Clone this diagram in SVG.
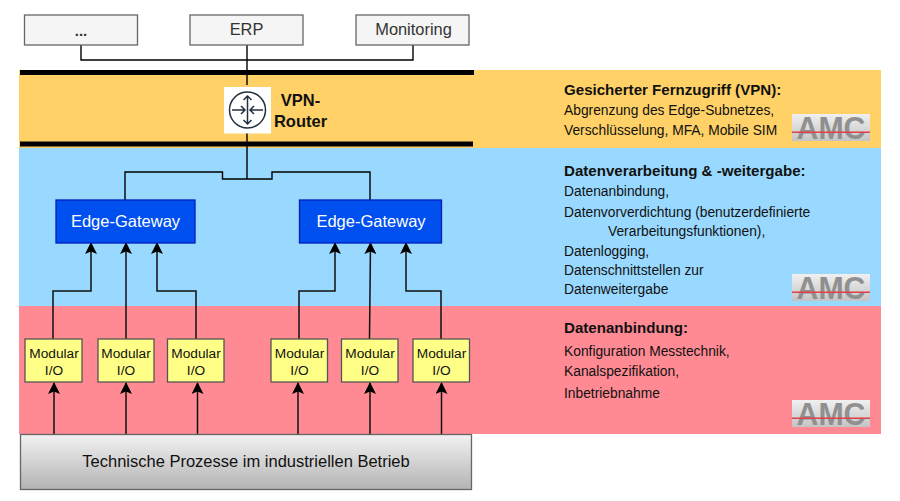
<svg xmlns="http://www.w3.org/2000/svg" width="900" height="501" viewBox="0 0 900 501">
<style>
text{font-family:"Liberation Sans",Arial,sans-serif;fill:#111}
.top{fill:#f5f5f5;stroke:#666;stroke-width:1.3}
.io{fill:#ffff88;stroke:#555;stroke-width:1.3}
.gw{fill:#0050ef;stroke:#001dbc;stroke-width:1.3}
.c{fill:none;stroke:#000;stroke-width:1.4}
.a{fill:none;stroke:#111;stroke-width:1.5;marker-end:url(#ah)}
.bar{fill:#000}
.lbl{font-size:13.7px;text-anchor:middle}
.tl{font-size:16.400px;text-anchor:middle;fill:#333}
.gl{font-size:16.500px;text-anchor:middle;fill:#fff}
.rl{font-size:16.500px;font-weight:bold;text-anchor:middle}
.h{font-size:15.100px;font-weight:bold}
.d{font-size:13.800px}
.ico{fill:none;stroke:#232f3e;stroke-width:1.5}
.logo{font-size:31px;font-weight:bold;fill:#909090;text-anchor:middle}
</style>
<defs>
<marker id="ah" markerUnits="userSpaceOnUse" markerWidth="12" markerHeight="12" refX="11" refY="6" orient="auto" viewBox="0 0 12 12"><path d="M12 6L0 0L2.500 6L0 12Z" fill="#000"/></marker>
<linearGradient id="g" x1="0" y1="0" x2="0" y2="1"><stop offset="0" stop-color="#f2f2f2"/><stop offset="1" stop-color="#b3b3b3"/></linearGradient>
<linearGradient id="lg" x1="0" y1="0" x2="0" y2="1"><stop offset="0" stop-color="#f0f0f0"/><stop offset="1" stop-color="#c4c4c4"/></linearGradient>
<g id="amc"><rect width="78" height="27" fill="url(#lg)"/><text class="logo" x="39" y="25" textLength="69" lengthAdjust="spacingAndGlyphs">AMC</text><rect y="17.500" width="78" height="1.500" fill="#e04048"/></g>
</defs>
<rect id="band-vpn" x="19" y="70" width="862" height="78" fill="#ffd166"/>
<rect id="band-daten" x="19" y="148" width="862" height="158" fill="#99d9ff"/>
<rect id="band-io" x="19" y="306" width="862" height="128" fill="#ff8a94"/>
<g id="connectors">
<path class="c" d="M81 45V60H413V45M247 45V85M247 133V179M125 200V172H222.500V179H272V172H370V200"/>
<path class="a" d="M53 339V291H91V243"/>
<path class="a" d="M126 339V243"/>
<path class="a" d="M196 339V291H157V243"/>
<path class="a" d="M299 339V291H335V243"/>
<path class="a" d="M369.500 339L370.500 243"/>
<path class="a" d="M441 339V291H406V243"/>
<path class="a" d="M54 434V383"/>
<path class="a" d="M126 434V383"/>
<path class="a" d="M197.500 434V383"/>
<path class="a" d="M298 434V383"/>
<path class="a" d="M370 434V383"/>
<path class="a" d="M441.500 434V383"/>
</g>
<rect class="bar" x="20" y="70" width="454" height="5"/>
<rect class="bar" x="20" y="141.500" width="453" height="5"/>
<g id="n-dots"><rect class="top" x="24.500" y="15" width="113" height="30"/><text class="lbl" x="81" y="36" style="font-weight:bold;font-size:15px;fill:#333">...</text></g>
<g id="n-erp"><rect class="top" x="190" y="15" width="113" height="30"/><text class="tl" x="246.500" y="35">ERP</text></g>
<g id="n-monitoring"><rect class="top" x="356" y="15" width="113" height="30"/><text class="tl" x="413.500" y="35">Monitoring</text></g>
<g id="n-router">
<rect x="224" y="87" width="47" height="46.500" fill="#fff"/>
<circle class="ico" cx="247.500" cy="110" r="18"/>
<path class="ico" d="M247.500 96V124M243.500 100L247.500 96L251.500 100M243.500 120L247.500 124L251.500 120M232 110H245M241 106L245 110L241 114M263 110H250M254 106L250 110L254 114"/>
<text class="rl" x="300.500" y="106">VPN-</text>
<text class="rl" x="300.500" y="127">Router</text>
</g>
<g id="n-gw1"><rect class="gw" x="56" y="200" width="139" height="43"/><text class="gl" x="125.500" y="227">Edge-Gateway</text></g>
<g id="n-gw2"><rect class="gw" x="299.500" y="200" width="142" height="43"/><text class="gl" x="371" y="227">Edge-Gateway</text></g>
<g id="n-io1"><rect class="io" x="25" y="339" width="57" height="43"/><text class="lbl" x="54" y="358">Modular</text><text class="lbl" x="54" y="375">I/O</text></g>
<g id="n-io2"><rect class="io" x="98" y="339" width="56" height="43"/><text class="lbl" x="126" y="358">Modular</text><text class="lbl" x="126" y="375">I/O</text></g>
<g id="n-io3"><rect class="io" x="167.500" y="339" width="56.500" height="43"/><text class="lbl" x="196" y="358">Modular</text><text class="lbl" x="196" y="375">I/O</text></g>
<g id="n-io4"><rect class="io" x="271" y="339" width="56.500" height="43"/><text class="lbl" x="299.500" y="358">Modular</text><text class="lbl" x="299.500" y="375">I/O</text></g>
<g id="n-io5"><rect class="io" x="341.500" y="339" width="56.500" height="43"/><text class="lbl" x="370" y="358">Modular</text><text class="lbl" x="370" y="375">I/O</text></g>
<g id="n-io6"><rect class="io" x="413" y="339" width="56.500" height="43"/><text class="lbl" x="441.500" y="358">Modular</text><text class="lbl" x="441.500" y="375">I/O</text></g>
<g id="n-prozesse"><rect x="20.500" y="434.500" width="451" height="55" fill="url(#g)" stroke="#666" stroke-width="1.3"/><text x="246" y="467" text-anchor="middle" style="font-size:16.500px">Technische Prozesse im industriellen Betrieb</text></g>
<text class="h" x="564" y="95">Gesicherter Fernzugriff (VPN):</text>
<text class="d" x="564" y="114.500">Abgrenzung des Edge-Subnetzes,</text>
<text class="d" x="564" y="135">Verschlüsselung, MFA, Mobile SIM</text>
<text class="h" x="564" y="176">Datenverarbeitung &amp; -weitergabe:</text>
<text class="d" x="564" y="196">Datenanbindung,</text>
<text class="d" x="564" y="216.500">Datenvorverdichtung (benutzerdefinierte</text>
<text class="d" x="608" y="235.500">Verarbeitungsfunktionen),</text>
<text class="d" x="564" y="256">Datenlogging,</text>
<text class="d" x="564" y="275">Datenschnittstellen zur</text>
<text class="d" x="564" y="294">Datenweitergabe</text>
<text class="h" x="564" y="333">Datenanbindung:</text>
<text class="d" x="564" y="356">Konfiguration Messtechnik,</text>
<text class="d" x="564" y="376">Kanalspezifikation,</text>
<text class="d" x="564" y="398">Inbetriebnahme</text>
<use href="#amc" x="792" y="114"/>
<use href="#amc" x="792" y="274"/>
<use href="#amc" x="792" y="400"/>
</svg>
